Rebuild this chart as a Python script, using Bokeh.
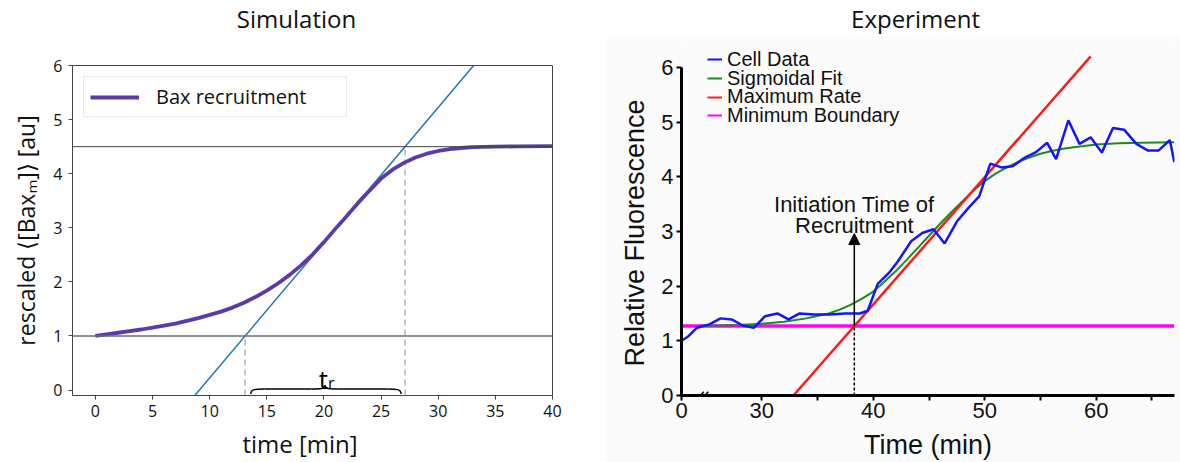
from bokeh.plotting import figure
from bokeh.layouts import row, column
from bokeh.models import Span, Legend, LegendItem, FixedTicker, Arrow, NormalHead
from bokeh.core.properties import value
from bokeh.embed import file_html
from bokeh.resources import INLINE

# ---------------- Simulation data ----------------
sim_time = [0, 1, 2, 3, 4, 5, 6, 7, 8, 9, 10, 11, 12, 13, 14, 15, 16, 17, 18, 19, 20,
            21, 22, 23, 24, 25, 26, 27, 28, 29, 30, 31, 32, 33, 34, 35, 37, 40]
sim_bax = [1.00, 1.03, 1.06, 1.09, 1.12, 1.155, 1.19, 1.23, 1.28, 1.33, 1.39, 1.45, 1.525,
           1.615, 1.72, 1.84, 1.975, 2.13, 2.305, 2.505, 2.735, 2.98, 3.22, 3.465, 3.69,
           3.91, 4.075, 4.20, 4.30, 4.37, 4.42, 4.455, 4.475, 4.49, 4.497, 4.50, 4.505, 4.51]
sim_baseline = 1.0
sim_plateau = 4.5
sim_t_start = 13.1
sim_t_end = 27.1
sim_x_ticks = [0, 5, 10, 15, 20, 25, 30, 35, 40]
sim_y_ticks = [0, 1, 2, 3, 4, 5, 6]

# ---------------- Experiment data ----------------
cell_time = [22.8, 23.4, 24.2, 25.3, 26.3, 27.3, 28.3, 29.3, 30.3, 31.4, 32.4, 33.4, 34.7,
             36.1, 37.5, 38.8, 39.5, 40.4, 41.4, 42.2, 43.4, 44.4, 45.4, 46.4, 47.5, 48.5,
             49.5, 50.5, 51.5, 52.5, 53.6, 54.6, 55.6, 56.4, 57.5, 58.5, 59.5, 60.5, 61.5,
             62.5, 63.6, 64.6, 65.6, 66.6, 67.0]
cell_fluor = [1.00, 1.08, 1.24, 1.30, 1.41, 1.39, 1.28, 1.24, 1.45, 1.50, 1.39, 1.50, 1.48,
              1.48, 1.50, 1.50, 1.55, 2.04, 2.24, 2.45, 2.82, 2.97, 3.04, 2.78, 3.18, 3.42,
              3.64, 4.24, 4.17, 4.19, 4.35, 4.45, 4.62, 4.32, 5.03, 4.60, 4.72, 4.44, 4.89,
              4.86, 4.60, 4.48, 4.48, 4.67, 4.27]
fit_time = [24.2, 26, 28, 30, 32, 34, 36, 37, 38, 39, 40, 41, 42, 43, 44, 45, 46, 47, 48,
            49, 50, 51, 52, 53, 54, 55, 56, 57, 58, 60, 62, 64, 67]
fit_fluor = [1.27, 1.28, 1.29, 1.31, 1.35, 1.41, 1.50, 1.57, 1.66, 1.77, 1.90, 2.08, 2.27,
             2.48, 2.70, 2.92, 3.14, 3.35, 3.55, 3.75, 3.92, 4.06, 4.17, 4.27, 4.35, 4.42,
             4.47, 4.51, 4.54, 4.59, 4.61, 4.62, 4.63]
rate_time = [32.84, 59.5]
rate_fluor = [0.0, 6.2]
min_boundary = 1.27
boundary_time = [22.8, 67.0]
t_init = 38.3
arrow_top = 2.96
exp_x_ticks = [22.8, 30, 40, 50, 60]
exp_x_minor = [35, 45, 55, 65]
exp_x_labels = {22.8: "0"}
exp_y_ticks = [0, 1, 2, 3, 4, 5, 6]
break_x = [24.5, 24.9]
legend_labels = ["Cell Data", "Sigmoidal Fit", "Maximum Rate", "Minimum Boundary"]
panel_titles = ["Simulation", "Experiment"]

FONT_L = "Open Sans"
FONT_R = "Liberation Sans"
BG_R = "#fcfbfc"
NB = "\u00a0"

W_L, W_R = 605, 575
H_T, H_M = 36, 426

# ================= Title strip =================
ts = figure(width=W_L + W_R, height=H_T, x_range=(0, W_L + W_R), y_range=(0, H_T),
            x_axis_type=None, y_axis_type=None, toolbar_location=None,
            output_backend="svg", min_border_left=0, min_border_right=0,
            min_border_top=0, min_border_bottom=0, outline_line_color=None,
            background_fill_color="white", border_fill_color="white")
ts.text(x=[296, 915], y=[18, 18], text=panel_titles, text_align="center",
        text_baseline="middle", text_font=value(FONT_L), text_font_size="24px",
        text_color="#111")

# ================= Left: Simulation =================
pl = figure(width=W_L, height=H_M, x_range=(-2, 40), y_range=(-0.1, 6),
            output_backend="svg", toolbar_location=None,
            min_border_left=72, min_border_right=53, min_border_top=29, min_border_bottom=63)
pl.xgrid.visible = False
pl.ygrid.visible = False
pl.outline_line_color = "#444"
pl.outline_line_width = 1
for ax in (pl.xaxis[0], pl.yaxis[0]):
    ax.axis_line_color = None
    ax.major_tick_line_color = "#444"
    ax.major_tick_out = 4
    ax.major_tick_in = 0
    ax.minor_tick_line_color = None
    ax.major_label_text_font = FONT_L
    ax.major_label_text_font_size = "16px"
    ax.major_label_text_color = "#111"
    ax.axis_label_text_font = FONT_L
    ax.axis_label_text_font_style = "normal"
    ax.axis_label_text_color = "#111"
pl.xaxis.ticker = FixedTicker(ticks=sim_x_ticks)
pl.yaxis.ticker = FixedTicker(ticks=sim_y_ticks)
pl.xaxis.major_label_standoff = 5
pl.xaxis.axis_label = "time [min]" + NB * 4
pl.xaxis.axis_label_text_font_size = "24px"
pl.xaxis.axis_label_standoff = 7
pl.yaxis.axis_label = "rescaled \u27e8[Bax\u2098]\u27e9 [au]"
pl.yaxis.axis_label_text_font_size = "23px"
pl.yaxis.major_label_standoff = 6
pl.yaxis.axis_label_standoff = 8

pl.add_layout(Span(location=sim_plateau, dimension="width", line_color="#444", line_width=1))
pl.add_layout(Span(location=sim_baseline, dimension="width", line_color="#6e6e6e", line_width=1.6))

slope = (sim_plateau - sim_baseline) / (sim_t_end - sim_t_start)
y_lo, y_hi = -0.1, 6.0
pl.line([sim_t_start + (y_lo - sim_baseline) / slope, sim_t_start + (y_hi - sim_baseline) / slope],
        [y_lo, y_hi], line_color="#1f77b4", line_width=1.5)
pl.line([sim_t_start, sim_t_start], [y_lo, sim_baseline], line_color="#a0a0a0",
        line_width=1.2, line_dash="6 4")
pl.line([sim_t_end, sim_t_end], [y_lo, sim_plateau], line_color="#a0a0a0",
        line_width=1.2, line_dash="6 4")

bax = pl.line(sim_time, sim_bax, line_color="#5b3aab", line_width=3.8, line_join="round")

# curly brace for t_r
bx0 = sim_t_start + 0.5
bx1 = sim_t_end - 0.35
bm = (sim_t_start + sim_t_end) / 2
by, bend, btip = 0.02, -0.07, 0.09
pl.bezier(x0=[bx0, bm, bx1, bm], y0=[bend, btip, bend, btip],
          x1=[bx0 + 1.2, bm - 1.2, bx1 - 1.2, bm + 1.2], y1=[by, by, by, by],
          cx0=[bx0, bm, bx1, bm], cy0=[by, by, by, by],
          cx1=[bx0 + 0.4, bm - 0.4, bx1 - 0.4, bm + 0.4], cy1=[by, by, by, by],
          line_color="black", line_width=1.5)
pl.segment(x0=[bx0 + 1.2, bm + 1.2], y0=[by, by], x1=[bm - 1.2, bx1 - 1.2], y1=[by, by],
           line_color="black", line_width=1.5)
pl.text(x=[bm + 0.25], y=[0.2], text=["t"], text_align="right", text_baseline="alphabetic",
        text_font=value(FONT_L), text_font_size="26px", text_color="black")
pl.text(x=[bm + 0.25], y=[0.14], text=["r"], text_align="left", text_baseline="alphabetic",
        text_font=value(FONT_L), text_font_size="16px", text_color="black")

leg_l = Legend(items=[LegendItem(label="Bax recruitment", renderers=[bax])],
               location="top_left", margin=11, padding=6, glyph_width=49, glyph_height=20,
               label_standoff=17, label_width=184, label_text_font=FONT_L,
               label_text_font_size="20px", label_text_color="#111",
               border_line_color="#d4d4d4", border_line_width=1, background_fill_alpha=1)
pl.add_layout(leg_l)

# ================= Right: Experiment =================
pr = figure(width=W_R, height=H_M, x_range=(22.8, 67.02), y_range=(0, 6.49),
            output_backend="svg", toolbar_location=None,
            min_border_left=76, min_border_right=6, min_border_top=4, min_border_bottom=65,
            background_fill_color=BG_R, border_fill_color=BG_R)
pr.xgrid.visible = False
pr.ygrid.visible = False
pr.outline_line_color = None
for ax in (pr.xaxis[0], pr.yaxis[0]):
    ax.axis_line_color = "black"
    ax.axis_line_width = 3
    ax.major_tick_line_color = "black"
    ax.major_tick_line_width = 2
    ax.major_tick_out = 5
    ax.major_tick_in = 0
    ax.major_label_text_font = FONT_R
    ax.major_label_text_font_size = "22px"
    ax.major_label_text_color = "#111"
    ax.axis_label_text_font = FONT_R
    ax.axis_label_text_font_style = "normal"
    ax.axis_label_text_color = "#111"
    ax.axis_label_text_font_size = "27px"
pr.xaxis.ticker = FixedTicker(ticks=exp_x_ticks, minor_ticks=exp_x_minor)
pr.xaxis.major_label_overrides = exp_x_labels
pr.xaxis.minor_tick_line_color = "black"
pr.xaxis.minor_tick_line_width = 2
pr.xaxis.minor_tick_out = 5
pr.xaxis.minor_tick_in = 0
pr.xaxis.major_label_standoff = 2
pr.xaxis.axis_label = "Time (min)"
pr.xaxis.axis_label_standoff = 9
pr.yaxis.ticker = FixedTicker(ticks=exp_y_ticks)
pr.yaxis.minor_tick_line_color = None
pr.yaxis.bounds = (0, 6)
pr.yaxis.major_label_standoff = 3
pr.yaxis.axis_label = "Relative Fluorescence" + NB * 4
pr.yaxis.axis_label_standoff = 8

r_bound = pr.line(boundary_time, [min_boundary, min_boundary], line_color="#ff00ff", line_width=3.5)
r_fit = pr.line(fit_time, fit_fluor, line_color="#1a8c1a", line_width=2)
r_rate = pr.line(rate_time, rate_fluor, line_color="#ff1a1a", line_width=2.5)
r_cell = pr.line(cell_time, cell_fluor, line_color="#1414ff", line_width=2.5)
pr.renderers.remove(r_fit)
pr.renderers.insert(1, r_fit)

pr.line([t_init, t_init], [0, min_boundary], line_color="black", line_width=1.5, line_dash="3 2")
pr.add_layout(Arrow(end=NormalHead(size=11, fill_color="black", line_color="black", line_width=1),
                    x_start=t_init, y_start=min_boundary, x_end=t_init, y_end=arrow_top,
                    line_color="black", line_width=1.5))
pr.text(x=[t_init, t_init], y=[3.49, 3.11], text=["Initiation Time of", "Recruitment"],
        text_align="center", text_baseline="alphabetic", text_font=value(FONT_R),
        text_font_size="22px", text_color="#111")
for bxv in break_x:
    pr.add_layout(Arrow(end=None, x_start=bxv - 0.3, y_start=-0.07, x_end=bxv + 0.3, y_end=0.07,
                        line_color="black", line_width=1.5))

# thin legend swatches: one-point lines (draw nothing in the plot)
series = [(cell_time, cell_fluor, "#1414ff"), (fit_time, fit_fluor, "#1a8c1a"),
          (rate_time, rate_fluor, "#ff1a1a"), (boundary_time, [min_boundary], "#ff00ff")]
legend_rows_vy = [324.5, 305.5, 287, 268.5]
for (xs, ys, col), lab, vy in zip(series, legend_labels, legend_rows_vy):
    proxy = pr.line(xs[:1], ys[:1], line_color=col, line_width=2)
    pr.add_layout(Legend(items=[LegendItem(label=lab, renderers=[proxy])],
                         location=(26, vy), margin=0, padding=0, spacing=0, glyph_width=15,
                         glyph_height=18, label_height=18, label_standoff=5,
                         label_text_font=FONT_R, label_text_font_size="20px",
                         label_text_color="#111", border_line_color=None,
                         background_fill_alpha=0))

layout = column(ts, row(column(pl), column(pr)))
open("out.html", "w").write(file_html(layout, INLINE))
